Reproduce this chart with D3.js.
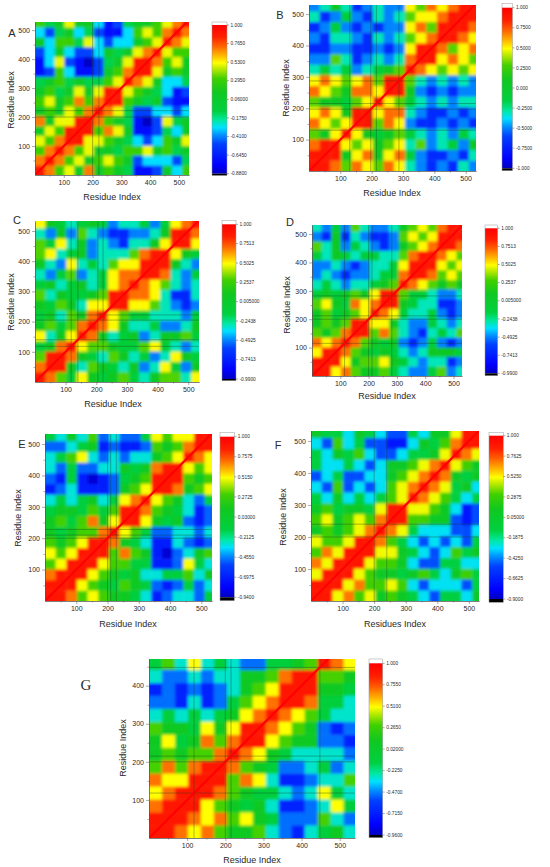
<!DOCTYPE html>
<meta charset="utf-8">
<style>
body { margin: 0; background: #fff; }
text { font-family: "Liberation Sans", Arial, sans-serif; fill: #2a2a2a; }
.axis text { font-size: 7px; }
.axis path, .axis line { stroke: #555; stroke-width: 0.5px; }
.title { font-size: 9px; }
.cbar text { font-size: 4.8px; }
.letter { font-size: 11px; }
.gap { stroke: #1c3a22; stroke-opacity: 0.45; stroke-width: 0.8px; }
</style>
<body>
<script src="https://d3js.org/d3.v7.min.js"></script>
<script>
var width = 550,
    height = 867;

// correlation maps, binned by 34 residues; row 0 = residues 1-34 (bottom of plot)
// each digit is a correlation level: value = -0.9 + 0.2 * digit
var binSize = 34;

var gridA = [
  "9867585654112536",
  "8986756765233324",
  "6898675546675645",
  "7689977654323657",
  "5769996875112435",
  "8577998654102745",
  "5657689874223323",
  "6756868996545211",
  "5645757997654312",
  "4564544679875334",
  "1263112568997565",
  "1372102457998675",
  "2353223545789766",
  "5366473233567987",
  "3245342113676898",
  "6457553124556789"
];
var gridB = [
  "9986876873212132",
  "9995785784211213",
  "8997675673623425",
  "6579754564323243",
  "8767996872112121",
  "7875997883211212",
  "6554679764323233",
  "8765887995212122",
  "7876786996323232",
  "3434234569876767",
  "2263123238997876",
  "1122112127998678",
  "2133213236789987",
  "1242121227869998",
  "3124213236778999",
  "2353123227687899"
];
var gridC = [
  "9864754564356637",
  "8995365435237425",
  "6998543653423754",
  "4589766544674323",
  "7357985345235564",
  "5646898753342235",
  "4536589764433324",
  "5465377997763212",
  "6354456998873113",
  "4534534789876323",
  "3246234788998324",
  "5327343677999532",
  "6734523336899754",
  "6473523213357997",
  "3252632112235998",
  "7543454233424789"
];
var gridD = [
  "9978655643224623",
  "9997566754323312",
  "7998654543235554",
  "8789865452124212",
  "6568996863213436",
  "5656997753224323",
  "5645679874334212",
  "6754878995433112",
  "4545657996443223",
  "3432334569876565",
  "2321223448998676",
  "2232123347999767",
  "4354344336899876",
  "6352432125678998",
  "2151321126767999",
  "3242632235676899"
];
var gridE = [
  "9986765543123324",
  "9997654654212423",
  "8999765453344635",
  "6799976644112743",
  "7679996865102356",
  "6567998543113212",
  "5456689764223323",
  "5646857997545212",
  "4554646998654312",
  "3434534789765324",
  "1231112567998567",
  "2141012456999656",
  "3242233545899767",
  "3467323233567987",
  "2234512112656899",
  "4353623224767799"
];
var gridF = [
  "9978675654324435",
  "9997866763233324",
  "7999765545643564",
  "8799976653224433",
  "6879997754323645",
  "7667998643232324",
  "5656789874333223",
  "6756768996655212",
  "5645547997765312",
  "4353434679876434",
  "3262323678987453",
  "2342233567898545",
  "4334323556789765",
  "4354632234457987",
  "3263422113546899",
  "5443543224355799"
];
var gridG = [
  "9987865563213453",
  "9998786754222632",
  "8999765453112374",
  "7899986544323743",
  "8779996873112336",
  "6868998654223423",
  "5656689875433332",
  "5745868997655221",
  "6554757998765212",
  "3434345789876433",
  "2213124678998443",
  "1212123567999554",
  "3223233556899665",
  "4637343224456987"
];

// colour bar labels, top to bottom
var cbarA = ["1.000", "0.7650", "0.5300", "0.2950", "0.06000", "-0.1750", "-0.4100", "-0.6450", "-0.8800"];
var cbarB = ["1.000", "0.7500", "0.5000", "0.2500", "0.000", "-0.2500", "-0.5000", "-0.7500", "-1.000"];
var cbarC = ["1.000", "0.7513", "0.5025", "0.2537", "0.005000", "-0.2438", "-0.4925", "-0.7413", "-0.9900"];
var cbarD = ["1.000", "0.7513", "0.5025", "0.2537", "0.005000", "-0.2438", "-0.4925", "-0.7413", "-0.9900"];
var cbarE = ["1.000", "0.7575", "0.5150", "0.2725", "0.03000", "-0.2125", "-0.4550", "-0.6975", "-0.9400"];
var cbarF = ["1.000", "0.7625", "0.5250", "0.2875", "0.05000", "-0.1875", "-0.4250", "-0.6625", "-0.9000"];
var cbarG = ["1.000", "0.7550", "0.5100", "0.2650", "0.02000", "-0.2250", "-0.4700", "-0.7150", "-0.9600"];

// dark seams between domains (residue numbers)
var gapA = [200, 222];
var gapB = [130, 197, 215, 287];
var gapC = [118, 140, 205, 222];
var gapD = [115, 200, 212, 282];
var gapE = [200, 210, 228];
var gapF = [200, 240];
var gapG = [118, 200, 215, 448];

var axisTicks = [100, 200, 300, 400, 500];
var minorTicks = [50, 150, 250, 350, 450];

// rainbow palette, 0 = bottom of colour bar, 1 = top
var cmapStops = [[0, "#0000c0"], [0.06, "#0000ff"], [0.2, "#0040ff"], [0.26, "#0090ff"],
  [0.31, "#00e0ff"], [0.36, "#00e8a0"], [0.42, "#00d040"], [0.55, "#10c820"],
  [0.64, "#40d000"], [0.7, "#b0e800"], [0.745, "#ffff00"], [0.8, "#ffb000"],
  [0.86, "#ff6000"], [0.92, "#ff2000"], [1, "#ff0000"]];
var cmap = d3.scaleLinear()
    .domain(cmapStops.map(function(d) { return d[0]; }))
    .range(cmapStops.map(function(d) { return d[1]; }))
    .clamp(true);

// plot: [x, y, w, h]; bar: [x, w, capTop, tick1, tickMin, bottom]
var panels = [
  {id: "A", grid: gridA, labels: cbarA, gaps: gapA, xMax: 535, yMax: 528, plot: [35, 22, 154, 153],
   bar: [212, 15, 22, 25, 173.7, 175.5], letter: [12, 37], xTitle: [112, 200], yTitle: [11, 100], xText: "Residue Index"},
  {id: "B", grid: gridB, labels: cbarB, gaps: gapB, xMax: 533, yMax: 529, plot: [309, 5, 167, 166],
   bar: [502, 10.5, 3.3, 7.7, 168.3, 170.7], letter: [280, 18.5], xTitle: [392, 196], yTitle: [286, 88], xText: "Residue Index"},
  {id: "C", grid: gridC, labels: cbarC, gaps: gapC, xMax: 535, yMax: 533, plot: [35, 221, 164, 161],
   bar: [222, 14, 220.7, 224.3, 379, 380.7], letter: [17, 224], xTitle: [113, 407], yTitle: [11, 302], xText: "Residue Index"},
  {id: "D", grid: gridD, labels: cbarD, gaps: gapD, xMax: 530, yMax: 532, plot: [312, 225, 150, 151],
   bar: [485, 12.7, 225, 228.3, 373.3, 375.7], letter: [290, 225.5], xTitle: [387, 399], yTitle: [287, 305], xText: "Residue Index"},
  {id: "E", grid: gridE, labels: cbarE, gaps: gapE, xMax: 534, yMax: 532, plot: [45, 434, 167, 167],
   bar: [220, 14.3, 432.7, 436.7, 597.3, 600.7], letter: [22, 448], xTitle: [128, 627], yTitle: [18, 518], xText: "Residue Index"},
  {id: "F", grid: gridF, labels: cbarF, gaps: gapF, xMax: 532, yMax: 531, plot: [311, 431, 168, 170],
   bar: [489, 14.3, 432.3, 435.7, 599, 602.3], letter: [278, 449], xTitle: [395, 627], yTitle: [283, 517], xText: "Residues Index"},
  {id: "G", grid: gridG, labels: cbarG, gaps: gapG, xMax: 540, yMax: 470, plot: [149, 659, 206, 179],
   bar: [369, 13.7, 659, 663.3, 835, 837.7], letter: [86, 690], xTitle: [252, 863], yTitle: [123, 748], xText: "Residue Index"}
];

var svg = d3.select("body").append("svg")
    .attr("width", width)
    .attr("height", height);
var defs = svg.append("defs");

panels.forEach(drawPanel);

function drawPanel(p) {
  var px = p.plot[0], py = p.plot[1], pw = p.plot[2], ph = p.plot[3];
  var x = d3.scaleLinear().domain([0, p.xMax]).range([px, px + pw]);
  var y = d3.scaleLinear().domain([0, p.yMax]).range([py + ph, py]);
  var vmin = parseFloat(p.labels[p.labels.length - 1]);
  var color = function(v) { return cmap((v - vmin) / (1 - vmin)); };
  var pad = 10;

  defs.append("clipPath").attr("id", "clip" + p.id)
    .append("rect").attr("x", px).attr("y", py).attr("width", pw).attr("height", ph);
  // soften the bins a little so the map reads like the contour plot
  defs.append("filter").attr("id", "soft" + p.id)
      .attr("filterUnits", "userSpaceOnUse")
      .attr("x", px - pad).attr("y", py - pad).attr("width", pw + 2 * pad).attr("height", ph + 2 * pad)
    .append("feGaussianBlur").attr("stdDeviation", 1.6);

  var cells = [];
  p.grid.forEach(function(row, r) {
    row.split("").forEach(function(ch, c) {
      cells.push({r: r, c: c, v: -0.9 + 0.2 * (+ch)});
    });
  });

  var g = svg.append("g");
  var map = g.append("g").attr("clip-path", "url(#clip" + p.id + ")");
  map.append("g").attr("filter", "url(#soft" + p.id + ")")
    .selectAll("rect")
    .data(cells)
    .join("rect")
      .attr("x", function(d) { return x(d.c * binSize) - (d.c === 0 ? pad : 0); })
      .attr("y", function(d) { return y((d.r + 1) * binSize) - (d.r === p.grid.length - 1 ? pad : 0); })
      .attr("width", function(d) {
        return x((d.c + 1) * binSize) - x(d.c * binSize) + 0.4 +
          (d.c === 0 ? pad : 0) + (d.c === p.grid[0].length - 1 ? pad : 0);
      })
      .attr("height", function(d) {
        return y(d.r * binSize) - y((d.r + 1) * binSize) + 0.4 +
          (d.r === 0 ? pad : 0) + (d.r === p.grid.length - 1 ? pad : 0);
      })
      .attr("fill", function(d) { return color(d.v); });

  p.gaps.forEach(function(res) {
    if (res < p.yMax) {
      map.append("line").attr("class", "gap")
        .attr("x1", px).attr("x2", px + pw).attr("y1", y(res)).attr("y2", y(res));
    }
    map.append("line").attr("class", "gap")
      .attr("x1", x(res)).attr("x2", x(res)).attr("y1", py).attr("y2", py + ph);
  });

  // self-correlation along the diagonal is 1.0
  var dmax = Math.min(p.xMax, p.yMax);
  map.append("line")
    .attr("x1", x(0)).attr("y1", y(0)).attr("x2", x(dmax)).attr("y2", y(dmax))
    .attr("stroke", color(1)).attr("stroke-width", 2.2);

  // axes
  var yTicks = axisTicks.filter(function(t) { return t < p.yMax; });
  g.append("g").attr("class", "axis")
    .attr("transform", "translate(0," + (py + ph) + ")")
    .call(d3.axisBottom(x).tickValues(axisTicks).tickSize(3).tickPadding(2).tickSizeOuter(0));
  g.append("g").attr("class", "axis")
    .attr("transform", "translate(" + px + ",0)")
    .call(d3.axisLeft(y).tickValues(yTicks).tickSize(3).tickPadding(2).tickSizeOuter(0));
  g.append("g").attr("class", "axis")
    .attr("transform", "translate(0," + (py + ph) + ")")
    .call(d3.axisBottom(x).tickValues(minorTicks).tickSize(1.5).tickFormat("").tickSizeOuter(0));
  g.append("g").attr("class", "axis")
    .attr("transform", "translate(" + px + ",0)")
    .call(d3.axisLeft(y).tickValues(minorTicks.filter(function(t) { return t < p.yMax; }))
      .tickSize(1.5).tickFormat("").tickSizeOuter(0));
  g.selectAll(".axis path.domain").attr("stroke", "#777");

  // titles
  g.append("text").attr("class", "title")
    .attr("x", p.xTitle[0]).attr("y", p.xTitle[1])
    .attr("text-anchor", "middle")
    .text(p.xText);
  g.append("text").attr("class", "title")
    .attr("transform", "translate(" + (p.yTitle[0] + 3.2) + "," + p.yTitle[1] + ") rotate(-90)")
    .attr("text-anchor", "middle")
    .text("Residue Index");

  if (p.id === "G") {
    g.append("text")
      .attr("x", p.letter[0]).attr("y", p.letter[1])
      .attr("text-anchor", "middle")
      .style("font-family", "'Liberation Serif', 'DejaVu Serif', serif")
      .style("font-size", "15px")
      .text(p.id);
  } else {
    g.append("text").attr("class", "letter")
      .attr("x", p.letter[0]).attr("y", p.letter[1])
      .attr("text-anchor", "middle")
      .text(p.id);
  }

  // colour bar
  var bx = p.bar[0], bw = p.bar[1];
  var cb = g.append("g").attr("class", "cbar");
  var by = d3.scaleLinear().domain([vmin, 1]).range([p.bar[4], p.bar[3]]);
  var grad = defs.append("linearGradient").attr("id", "grad" + p.id)
    .attr("x1", 0).attr("y1", 1).attr("x2", 0).attr("y2", 0);
  grad.selectAll("stop")
    .data(cmapStops)
    .join("stop")
      .attr("offset", function(d) { return d[0]; })
      .attr("stop-color", function(d) { return d[1]; });
  cb.append("rect")
    .attr("x", bx).attr("y", p.bar[2]).attr("width", bw).attr("height", p.bar[3] - p.bar[2])
    .attr("fill", "#fff");
  cb.append("rect")
    .attr("x", bx).attr("y", p.bar[3]).attr("width", bw).attr("height", p.bar[4] - p.bar[3])
    .attr("fill", "url(#grad" + p.id + ")");
  cb.append("rect")
    .attr("x", bx).attr("y", p.bar[4]).attr("width", bw).attr("height", p.bar[5] - p.bar[4])
    .attr("fill", "#000");
  cb.append("rect")
    .attr("x", bx).attr("y", p.bar[2]).attr("width", bw).attr("height", p.bar[5] - p.bar[2])
    .attr("fill", "none").attr("stroke", "#999").attr("stroke-width", 0.5);
  var ticks = cb.selectAll(".ctick")
    .data(p.labels)
    .join("g")
      .attr("class", "ctick")
      .attr("transform", function(d) { return "translate(" + (bx + bw) + "," + by(parseFloat(d)) + ")"; });
  ticks.append("line").attr("x1", 0).attr("x2", 2).attr("stroke", "#555").attr("stroke-width", 0.5);
  ticks.append("text")
    .attr("x", 3.5).attr("dy", "0.35em")
    .text(function(d) { return d; });
}
</script>
